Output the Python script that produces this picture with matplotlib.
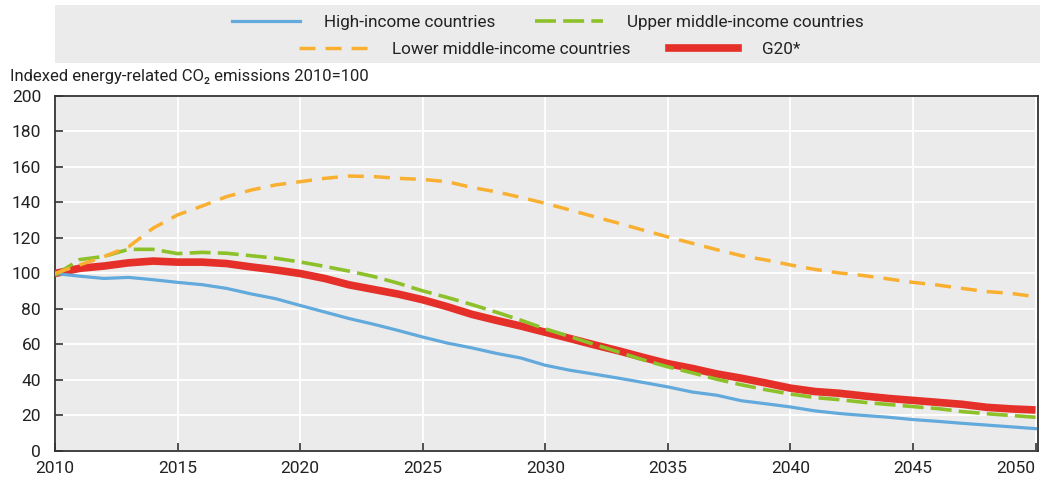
import matplotlib
matplotlib.use('Agg')
import matplotlib.pyplot as plt
from matplotlib.patches import Rectangle
from matplotlib.lines import Line2D

plt.rcParams['font.family'] = ['Roboto', 'DejaVu Sans']
plt.rcParams['font.size'] = 12

years = list(range(2010, 2051))

high_income = [100, 98.5, 97.2, 97.8, 96.5, 95, 93.7, 91.6, 88.5, 85.8, 82,
               78.3, 74.6, 71.4, 67.9, 64.2, 60.8, 58.1, 55, 52.4, 48.3,
               45.5, 43.3, 41, 38.6, 36.1, 33.2, 31.4, 28.3, 26.6, 24.8,
               22.6, 21.1, 20, 19, 17.7, 16.7, 15.6, 14.6, 13.6, 12.6]
upper_middle = [99, 107.8, 109.6, 113.6, 113.6, 111.2, 111.9, 111.4, 110, 108.6, 106.5,
                104, 101.3, 98.3, 94.5, 90.2, 86.5, 82.5, 78.2, 73.7, 68.8,
                64.5, 60, 55.7, 51.3, 47.4, 44, 40.4, 37.3, 34.5, 32.1,
                30.1, 28.9, 27.4, 26.2, 25, 23.9, 22.2, 21, 20, 19]
lower_middle = [100, 104.8, 109.5, 115, 125.5, 133, 138, 143.3, 147, 149.9, 151.7,
                153.6, 154.9, 154.6, 153.6, 153, 151.7, 148.5, 146, 142.9, 139.5,
                135.8, 132, 128.3, 124.4, 120.6, 117, 113.4, 110, 107.6, 104.8,
                102.3, 100.3, 98.8, 96.9, 95, 93.5, 91.6, 89.8, 88.8, 86.9]
g20 = [100, 102.9, 104.2, 106, 107, 106.4, 106.4, 105.6, 103.7, 102, 100,
       97.2, 93.6, 91, 88.4, 85.2, 81.3, 77, 73.6, 70.4, 66.9,
       63.4, 59.8, 56.4, 52.7, 49.2, 46.5, 43.4, 41, 38.3, 35.4,
       33.5, 32.5, 31, 29.6, 28.5, 27.4, 26.3, 24.6, 23.7, 23.1]

blue = '#62a9dc'
green = '#8dc12a'
orange = '#f9b031'
red = '#e5302a'
text_col = '#222222'

green_dash = (5.8, 2.0)
orange_dash = (4.6, 2.9)

fig = plt.figure(figsize=(10.43, 4.79), dpi=100)
ax = fig.add_axes([0.0527, 0.0585, 0.9425, 0.7411])
ax.set_facecolor('#ebebeb')

ax.plot(years, g20, color=red, lw=5.5, zorder=3, solid_capstyle='butt')
ax.plot(years, high_income, color=blue, lw=2.3, zorder=4)
ax.plot(years, upper_middle, color=green, lw=2.6, dashes=green_dash, zorder=5)
ax.plot(years, lower_middle, color=orange, lw=2.5, dashes=orange_dash, zorder=6)

ax.set_xlim(2010, 2050.1)
ax.set_ylim(0, 200)
ax.set_xticks(range(2010, 2051, 5))
ax.set_yticks(range(0, 201, 20))
ax.grid(True, color='white', lw=1.3, zorder=0)
ax.set_axisbelow(True)
ax.tick_params(direction='in', length=6, width=1.2, color='#333333',
               labelsize=12.5, labelcolor=text_col)
ax.tick_params(axis='y', pad=10)
ax.tick_params(axis='x', pad=7)
ax.get_xticklabels()[-1].set_horizontalalignment('right')
for s in ax.spines.values():
    s.set_color('#333333')
    s.set_linewidth(1.3)

fig.text(0.0096, 0.84, 'Indexed energy-related CO\u2082 emissions 2010=100',
         fontsize=12, color=text_col, va='center', ha='left')

# legend band
fig.patches.append(Rectangle((0.0527, 0.8685), 0.944, 0.121, transform=fig.transFigure,
                             facecolor='#ebebeb', edgecolor='none', zorder=0))

h_high = Line2D([], [], color=blue, lw=2.3)
h_upper = Line2D([], [], color=green, lw=2.6, dashes=green_dash)
h_lower = Line2D([], [], color=orange, lw=2.5, dashes=orange_dash)
h_g20 = Line2D([], [], color=red, lw=5.5)

leg_kw = dict(ncol=2, frameon=False, handlelength=4.0, handletextpad=1.4,
              columnspacing=2.3, fontsize=12.3, labelcolor=text_col, loc='center',
              borderpad=0, borderaxespad=0)
leg1 = fig.legend([h_high, h_upper], ['High-income countries', 'Upper middle-income countries'],
                  bbox_to_anchor=(0.525, 0.954), **leg_kw)
leg2 = fig.legend([h_lower, h_g20], ['Lower middle-income countries', 'G20*'],
                  bbox_to_anchor=(0.527, 0.896), **leg_kw)

fig.savefig('out.png', dpi=100)
